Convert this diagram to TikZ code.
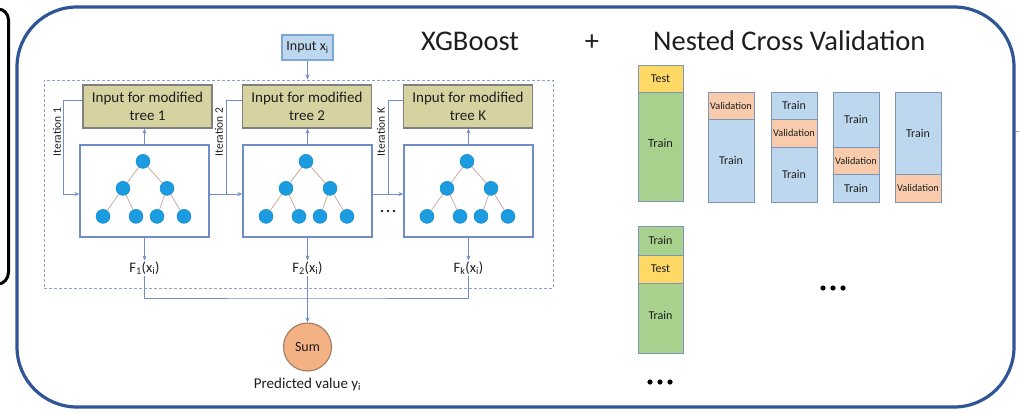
\documentclass[tikz,border=0pt]{standalone}
\usepackage{fontspec}
\setmainfont{Carlito}
\usetikzlibrary{arrows.meta,calc}

\definecolor{frameblue}{HTML}{2F5597}
\definecolor{dashblue}{HTML}{8EA2C8}
\definecolor{linkblue}{HTML}{6F8FCB}
\definecolor{treeedge}{HTML}{6F8CC6}
\definecolor{olivefill}{HTML}{D6D3A1}
\definecolor{oliveedge}{HTML}{808080}
\definecolor{inpfill}{HTML}{BDD7EE}
\definecolor{inpedge}{HTML}{7EA6D6}
\definecolor{nodeblue}{HTML}{1B9BE0}
\definecolor{nodeedge}{HTML}{178BCB}
\definecolor{branchcol}{HTML}{C9ACA6}
\definecolor{sumfill}{HTML}{F4B183}
\definecolor{sumedge}{HTML}{9C7B62}
\definecolor{testyellow}{HTML}{FFD966}
\definecolor{traingreen}{HTML}{A9D18E}
\definecolor{trainblue}{HTML}{BDD7EE}
\definecolor{valpeach}{HTML}{F8CBAD}
\definecolor{segedge}{HTML}{7F95B8}
\definecolor{ink}{HTML}{1E1E1E}

\newcommand\fs[1]{\fontsize{#1}{1.2\dimexpr#1pt\relax}\selectfont}

% one binary tree of depth two inside the tree box #1
\newcommand\drawtree[1]{%
  \node[leaf] (#1r)  at ($(#1.north)+(-1.5,17)$) {};
  \node[leaf] (#1a)  at ($(#1.north)+(-21.5,44)$) {};
  \node[leaf] (#1b)  at ($(#1.north)+(22.5,44)$) {};
  \node[leaf] (#1aa) at ($(#1.north)+(-41.5,72)$) {};
  \node[leaf] (#1ab) at ($(#1.north)+(-8.5,72)$) {};
  \node[leaf] (#1ba) at ($(#1.north)+(12.5,72)$) {};
  \node[leaf] (#1bb) at ($(#1.north)+(39.5,72)$) {};
  \draw[branch] (#1r) -- (#1a);
  \draw[branch] (#1r) -- (#1b);
  \draw[branch] (#1a) -- (#1aa);
  \draw[branch] (#1a) -- (#1ab);
  \draw[branch] (#1b) -- (#1ba);
  \draw[branch] (#1b) -- (#1bb);
}

\tikzset{
  olivebox/.style={draw=oliveedge, fill=olivefill, line width=1.1,
    minimum width=129, minimum height=43, inner sep=0, align=center,
    font=\fontsize{15}{18}\selectfont, text=ink},
  treebox/.style={draw=treeedge, line width=1.3, fill=white,
    minimum width=129, minimum height=92, inner sep=0},
  leaf/.style={circle, fill=nodeblue, draw=nodeedge, line width=0.5,
    minimum size=14, inner sep=0},
  branch/.style={draw=branchcol, line width=0.8},
  link/.style={draw=linkblue, line width=0.9},
  tip/.style={-{Stealth[length=5, width=4]}},
  itlabel/.style={rotate=90, font=\fs{11.5}, text=ink, inner sep=0},
  flabel/.style={font=\fs{14.5}, text=ink, inner sep=1},
  seg/.style={draw=segedge, line width=0.9, minimum width=46, inner sep=0,
    font=\fs{12}, text=ink},
  valtext/.style={font=\fs{10.3}},
}

\begin{document}
\begin{tikzpicture}[x=1pt, y=-1pt]
\useasboundingbox (0,0) rectangle (1019,412);

% outer frames
\draw[black, line width=3] (-2,9) to[out=0, in=90] (8.5,20) -- (8.5,272)
  to[out=-90, in=0] (-2,284);
\draw[frameblue, line width=3.2, rounded corners=60] (17,7) rectangle (1014,407);
\draw[gray!70, line width=0.8] (1016,131) -- (1019,131);

% titles
\node[anchor=base, font=\fs{28.5}, text=ink, inner sep=0] (ttlA) at (470,51) {XGBoost};
\node[anchor=base, font=\fs{28.5}, text=ink, inner sep=0] (ttlP) at (592,51) {+};
\node[anchor=base west, font=\fs{28.5}, text=ink, inner sep=0] (ttlB) at (653,51) {Nested Cross Validation};

% boosting loop
\node[draw=dashblue, line width=1, dash pattern=on 3pt off 2pt,
  minimum width=509, minimum height=208, inner sep=0] (loop) at (298.5,184) {};
\node[draw=inpedge, fill=inpfill, line width=1.1, minimum width=51,
  minimum height=25, inner sep=0, font=\fs{14}, text=ink] (inp) at (307.5,47.5)
  {Input x\textsubscript{i}};
\draw[link, tip] (inp.south) -- (inp.south |- loop.north);

\node[olivebox] (ol1) at (147.5,106.5) {Input for modified\\tree 1};
\node[olivebox] (ol2) at (307,106.5) {Input for modified\\tree 2};
\node[olivebox] (ol3) at (468,106.5) {Input for modified\\tree K};

\node[treebox] (tr1) at (144.5,191) {};
\node[treebox] (tr2) at (307.5,191) {};
\node[treebox] (tr3) at (468.5,191) {};
\drawtree{tr1}
\drawtree{tr2}
\drawtree{tr3}

\draw[link, tip] (tr1.north) -- (tr1.north |- ol1.south);
\draw[link, tip] (tr2.north) -- (tr2.north |- ol2.south);
\draw[link, tip] (tr3.north) -- (tr3.north |- ol3.south);

% iterations
\draw[link, tip] ([yshift=6pt]ol1.west) -- ++(-19,0) |- ([yshift=-3pt]tr1.west);
\draw[link, tip] ([yshift=-3pt]tr1.east) -- ([yshift=-3pt]tr2.west);
\draw[link, tip] ([yshift=-3pt]tr2.east) -- ([yshift=-3pt]tr3.west);
\coordinate (br2) at ($([yshift=-3pt]tr1.east)!0.5!([yshift=-3pt]tr2.west)$);
\coordinate (br3) at ($([yshift=-3pt]tr2.east)!0.5!([yshift=-3pt]tr3.west)$);
\draw[link] (br2) |- ([yshift=6pt]ol2.west);
\draw[link] (br3) |- ([yshift=6pt]ol3.west);
\node[itlabel] (it1) at (57,132) {Iteration 1};
\node[itlabel] (it2) at (219,132) {Iteration 2};
\node[itlabel] (it3) at (381,132) {Iteration K};
\foreach \dx in {-6,0,6} \fill[ink] (388+\dx,211) circle (1.4);

% tree outputs and sum
\node[flabel] (f1) at (144.5,268) {F\textsubscript{1}(x\textsubscript{i})};
\node[flabel] (f2) at (307.5,268) {F\textsubscript{2}(x\textsubscript{i})};
\node[flabel] (f3) at (468.5,268) {F\textsubscript{k}(x\textsubscript{i})};
\draw[link, tip] (tr1.south) -- (f1.north);
\draw[link, tip] (tr2.south) -- (f2.north);
\draw[link, tip] (tr3.south) -- (f3.north);

\node[circle, draw=sumedge, fill=sumfill, line width=1.1, minimum size=48,
  inner sep=0, font=\fs{14}, text=ink] (sum) at (307.5,347) {Sum};
\coordinate (join) at (307.5,298);
\draw[link] (f1.south) |- (join) -| (f3.south);
\draw[link, tip] (f2.south) -- (sum.north);
\node[font=\fs{15}, text=ink, inner sep=0] (pred) at (307.5,384)
  {Predicted value y\textsubscript{i}};

% nested cross validation folds
\node[seg, fill=testyellow, minimum width=45, minimum height=27] (c1a) at (660.5,78.5) {Test};
\node[seg, fill=traingreen, minimum width=45, minimum height=109, font=\fs{12.5}] (c1b) at (660.5,146.5) {\raisebox{6pt}{Train}};

\node[seg, fill=valpeach, minimum height=27.5, valtext] (c2a) at (731,105.75) {Validation};
\node[seg, fill=trainblue, minimum height=82.5] (c2b) at (731,160.75) {Train};

\node[seg, fill=trainblue, minimum height=27.5] (c3a) at (794,105.75) {Train};
\node[seg, fill=valpeach, minimum height=27.5, valtext] (c3b) at (794,133.25) {Validation};
\node[seg, fill=trainblue, minimum height=55] (c3c) at (794,174.5) {Train};

\node[seg, fill=trainblue, minimum height=55] (c4a) at (856,119.5) {Train};
\node[seg, fill=valpeach, minimum height=27.5, valtext] (c4b) at (856,160.75) {Validation};
\node[seg, fill=trainblue, minimum height=27.5] (c4c) at (856,188.25) {Train};

\node[seg, fill=trainblue, minimum height=82.5] (c5a) at (918,133.25) {Train};
\node[seg, fill=valpeach, minimum height=27.5, valtext] (c5b) at (918,188.25) {Validation};

\node[seg, fill=traingreen, minimum width=45, minimum height=29] (c6a) at (660.5,240.5) {Train};
\node[seg, fill=testyellow, minimum width=45, minimum height=28] (c6b) at (660.5,269) {Test};
\node[seg, fill=traingreen, minimum width=45, minimum height=70] (c6c) at (660.5,318) {\raisebox{5pt}{Train}};

\foreach \dx in {-10,0,10} \fill[black] (833+\dx,288) circle (2.6);
\foreach \dx in {-10,0,10} \fill[black] (660+\dx,382) circle (2.6);
\end{tikzpicture}
\end{document}
